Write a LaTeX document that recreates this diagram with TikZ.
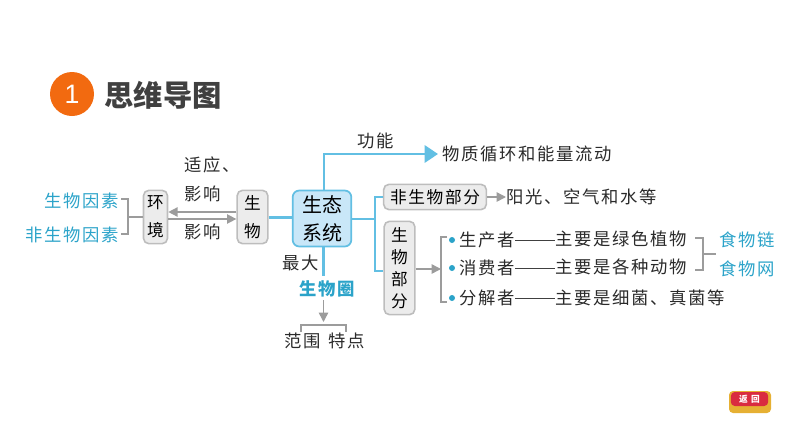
\documentclass[tikz,border=0pt]{standalone}
\usepackage{fontspec}
\usetikzlibrary{arrows.meta,calc}
\setmainfont{Noto Sans CJK SC}
\newfontfamily\cnsp[LetterSpace=10]{Noto Sans CJK SC}
\newfontfamily\cnwide[LetterSpace=40]{Noto Sans CJK SC}
\newfontfamily\cntight{Noto Sans CJK SC}
\newfontfamily\lat{Liberation Sans}
\definecolor{cblue}{HTML}{2BA3C9}
\definecolor{lblue}{HTML}{62BFE3}
\definecolor{gline}{HTML}{9C9C9C}
\definecolor{boxfill}{HTML}{ECECEC}
\definecolor{boxedge}{HTML}{BDBDBD}
\definecolor{tgray}{HTML}{2A2A2A}
\definecolor{ecofill}{HTML}{C9E7F8}
\definecolor{numfill}{HTML}{F26A10}
\definecolor{btnred}{HTML}{D92B40}
\definecolor{btngold}{HTML}{E6B033}
\tikzset{
  txt/.style={inner sep=0pt,text=tgray,font={\cnsp\fontsize{13}{16}\selectfont}},
  bluetxt/.style={txt,text=cblue},
  graybox/.style={draw=boxedge,line width=1.2pt,fill=boxfill,rounded corners=4pt,inner sep=0pt,align=center,text=black,
     font={\cntight\fontsize{12.5}{21}\selectfont}},
  bluebox/.style={draw=lblue,line width=1.3pt,fill=ecofill,rounded corners=5pt,inner sep=0pt,align=center,text=black,
     font={\cntight\fontsize{15}{21}\selectfont}},
  bl/.style={draw=lblue,line width=1.6pt},
  gl/.style={draw=gline,line width=1.1pt},
  gthin/.style={draw=gline,line width=0.8pt},
  garrow/.style={gl,-{Triangle[length=7pt,width=7pt]}},
  blarrow/.style={bl,-{Triangle[length=10pt,width=13pt,fill=lblue]}},
  dotn/.style={circle,fill=cblue,inner sep=0pt,minimum size=4.5pt},
}
\begin{document}
\begin{tikzpicture}[x=0.75pt,y=-0.75pt]
\useasboundingbox (0,0) rectangle (794,447);
% title
\node[circle,fill=numfill,inner sep=0pt,minimum size=33pt,text=white,font={\lat\fontsize{20}{24}\selectfont}] (num) at (72,94) {1};
\node[inner sep=0pt,text=black!75,font={\cntight\bfseries\fontsize{22}{26}\selectfont}] (title) at (163,95) {思维导图};
% boxes
\node[graybox,minimum width=18pt,minimum height=40pt] (env) at (155.5,217) {环\\境};
\node[graybox,minimum width=23pt,minimum height=40pt] (org) at (252.5,217) {生\\物};
\node[bluebox,minimum width=44pt,minimum height=42pt] (eco) at (322,218.5) {生态\\系统};
\node[graybox,minimum width=77pt,minimum height=19pt,font={\cnsp\fontsize{12.5}{16}\selectfont}] (abio) at (435,197) {非生物部分};
\node[graybox,minimum width=23pt,minimum height=70pt,font={\cntight\fontsize{12.5}{16.5}\selectfont}] (bio) at (399.5,268) {生\\物\\部\\分};
% left text
\node[bluetxt,anchor=east] (f1) at (119,201) {生物因素};
\node[bluetxt,anchor=east] (f2) at (119,235) {非生物因素};
\node[txt,anchor=west] (t1) at (184,165) {适应、};
\node[txt,anchor=west] (t2) at (184,194) {影响};
\node[txt,anchor=west] (t3) at (184,232) {影响};
% right text
\node[txt] (gn) at (376,141) {功能};
\node[txt,anchor=west] (fn) at (442,154) {物质循环和能量流动};
\node[txt,anchor=west] (sun) at (506,197) {阳光、空气和水等};
\node[dotn] (d1) at (452,240) {};
\node[dotn] (d2) at (452,268) {};
\node[dotn] (d3) at (452,298) {};
\node[txt,anchor=west] (p1) at (459,240) {生产者};
\node[txt,anchor=west] (p2) at (459,268) {消费者};
\node[txt,anchor=west] (p3) at (459,298) {分解者};
\node[txt,anchor=west] (m1) at (555,239) {主要是绿色植物};
\node[txt,anchor=west] (m2) at (555,267) {主要是各种动物};
\node[txt,anchor=west] (m3) at (555,298) {主要是细菌、真菌等};
\node[bluetxt,anchor=west] (c1) at (719,240) {食物链};
\node[bluetxt,anchor=west] (c2) at (719,269) {食物网};
\node[txt] (big) at (301,263) {最大};
\node[bluetxt,font={\cnsp\bfseries\fontsize{13}{16}\selectfont}] (bs) at (327,289) {生物圈};
\node[txt,anchor=west] (r1) at (284,341) {范围};
\node[txt,anchor=east] (r2) at (365,341) {特点};
% junctions
\coordinate (lj) at (128,217);
\coordinate (rj) at (703,254);
\coordinate (ej) at (375,219);
\coordinate (bj) at (441,269);
% left bracket
\draw[gthin] (121,199) -| (lj) |- (121,234);
\draw[gl] (lj) -- (env.west |- lj);
% env / org arrows
\draw[garrow] (org.west |- 0,212) -- (env.east |- 0,212);
\draw[garrow] (env.east |- 0,219) -- (org.west |- 0,219);
\draw[bl] (org.east |- 0,217.5) -- (eco.west |- 0,217.5);
% function
\draw[blarrow] (324,190) -- (324,154) -- (438,154);
% branch
\draw[bl] (eco.east |- ej) -- (ej);
\draw[bl] (abio.west) -| (ej) |- (bio.west |- 0,271);
\draw[garrow] (abio.east) -- (sun.west);
% bio bracket
\draw[garrow] (bio.east |- bj) -- (bj);
\draw[gthin] (447,237) -- (441,237) -- (441,302) -- (447,302);
% dashes
\draw[black!75,line width=0.7pt] (p1.east) -- (m1.west |- p1.east);
\draw[black!75,line width=0.7pt] (p2.east) -- (m2.west |- p2.east);
\draw[black!75,line width=0.7pt] (p3.east) -- (m3.west |- p3.east);
% right bracket
\draw[gthin] (695,238) -| (rj) |- (695,270);
\draw[gl] (rj) -- (716,254);
% down
\draw[bl] (eco.south -| 323.5,0) -- (323.5,276);
\draw[garrow] (323.5,300) -- (323.5,322);
\draw[gthin] (301,332) -- (301,325) -- (346,325) -- (346,332);
% return button
\fill[rounded corners=3pt,fill=btngold] (729,391) rectangle (771,413);
\node[fill=btnred,rounded corners=3pt,minimum width=28pt,minimum height=10.5pt,inner sep=0pt,text=white,
  font={\cnwide\bfseries\fontsize{6.5}{8}\selectfont}] (ret) at (749.5,399) {返回};
\end{tikzpicture}
\end{document}
